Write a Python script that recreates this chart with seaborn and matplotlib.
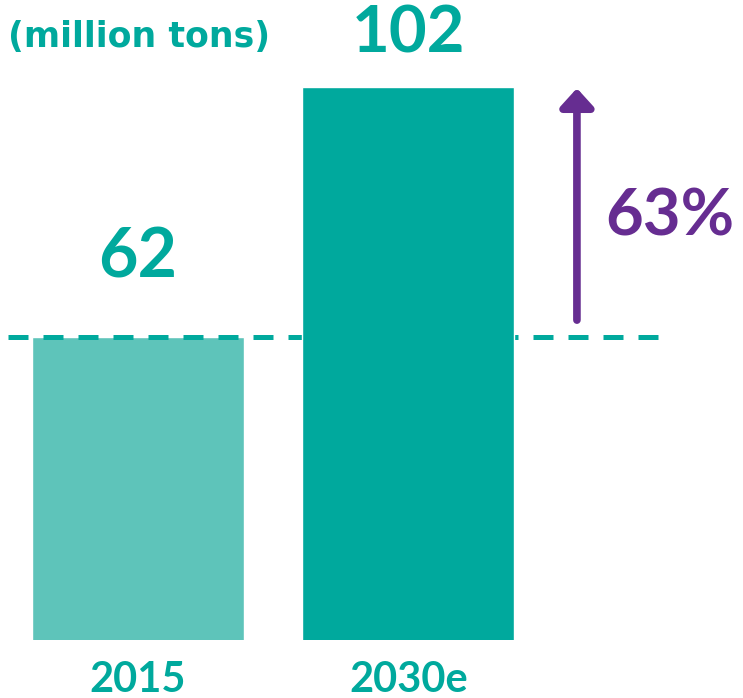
import matplotlib
matplotlib.use("Agg")
import matplotlib.pyplot as plt
import seaborn as sns
from matplotlib.patches import FancyArrowPatch

# ---- data ----
categories = ["2015", "2030e"]
values = [62, 102]
growth_label = "63%"
unit_label = "(million tons)"

# ---- style ----
light_teal = "#5EC4BA"
dark_teal = "#00A99D"
purple = "#662D91"

sns.set_theme(style="white")
plt.rcParams["font.family"] = ["Lato", "DejaVu Sans"]

fig = plt.figure(figsize=(7.43, 6.98), dpi=100)
ax = fig.add_axes([0, 58 / 698, 1, 640 / 698])

sns.barplot(x=categories, y=values, hue=categories,
            palette=[light_teal, dark_teal], saturation=1,
            width=0.784, legend=False, ax=ax)

ax.set_xlim(-0.510, 2.237)
ax.set_ylim(13.52, 115.92)

# second bar above the dashed line
ax.patches[1].set_zorder(3)

# dashed reference line at 2015 level
ax.axhline(values[0], xmin=8 / 743, xmax=665 / 743, color=dark_teal,
           lw=3.6, dashes=(4.0, 3.0), dash_capstyle="butt", zorder=2)

# value labels
label_offsets = [43, 24.5]  # points above bar top
for i, (v, off) in enumerate(zip(values, label_offsets)):
    ax.annotate(str(v), xy=(i, v), xytext=(0, off), textcoords="offset points",
                ha="center", va="baseline", fontsize=49 if i == 0 else 47,
                fontweight="bold", color=dark_teal)

# growth arrow
arrow = FancyArrowPatch((1.623, 64.7), (1.623, 101.8),
                        arrowstyle="-|>,head_length=1.1,head_width=1.0",
                        mutation_scale=10, lw=5.5, color=purple,
                        shrinkA=0, shrinkB=0, zorder=4)
ax.add_patch(arrow)
ax.text(1.967, 81.2, growth_label, ha="center", va="center",
        fontsize=47, fontweight="bold", color=purple)

# unit label
fig.text(8 / 743, 1 - 47 / 698, unit_label, ha="left", va="baseline",
         fontsize=25, fontweight="bold", color=dark_teal,
         family=["DejaVu Sans"])

# axes cosmetics
ax.set_yticks([])
ax.set_xlabel("")
ax.set_ylabel("")
ax.tick_params(axis="x", length=0, pad=15, labelsize=30, labelcolor=dark_teal)
for lbl in ax.get_xticklabels():
    lbl.set_fontweight("bold")
for s in ax.spines.values():
    s.set_visible(False)

fig.savefig("out.png", dpi=100)
